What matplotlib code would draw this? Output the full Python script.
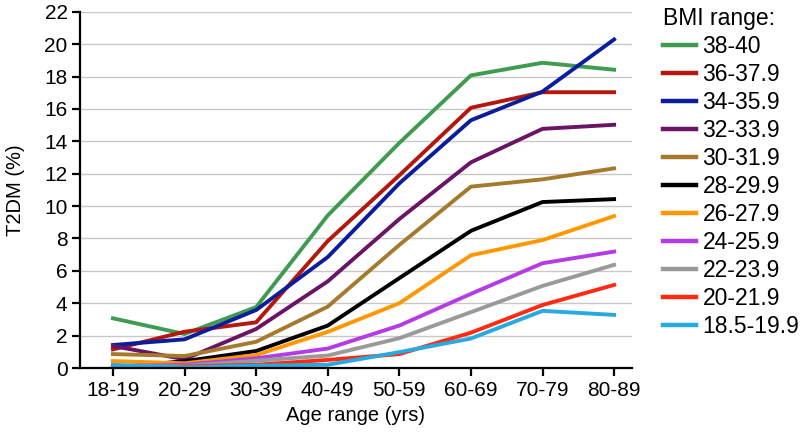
import matplotlib.pyplot as plt

plt.rcParams['font.family'] = ['Liberation Sans', 'DejaVu Sans']

age_ranges = ['18-19', '20-29', '30-39', '40-49', '50-59', '60-69', '70-79', '80-89']
bmi_ranges = ['38-40', '36-37.9', '34-35.9', '32-33.9', '30-31.9', '28-29.9',
              '26-27.9', '24-25.9', '22-23.9', '20-21.9', '18.5-19.9']

bmi_38_40 = [3.07, 2.1, 3.76, 9.42, 13.9, 18.07, 18.85, 18.42]
bmi_36_37 = [1.15, 2.24, 2.82, 7.84, 11.9, 16.07, 17.03, 17.03]
bmi_34_35 = [1.42, 1.77, 3.58, 6.85, 11.4, 15.3, 17.07, 20.29]
bmi_32_33 = [1.36, 0.54, 2.41, 5.35, 9.2, 12.7, 14.77, 15.02]
bmi_30_31 = [0.86, 0.74, 1.62, 3.79, 7.6, 11.2, 11.65, 12.33]
bmi_28_29 = [0.02, 0.42, 1.05, 2.62, 5.55, 8.47, 10.25, 10.43]
bmi_26_27 = [0.43, 0.29, 0.8, 2.23, 4.0, 6.96, 7.9, 9.38]
bmi_24_25 = [0.1, 0.2, 0.6, 1.2, 2.62, 4.58, 6.47, 7.19]
bmi_22_23 = [0.05, 0.14, 0.45, 0.77, 1.84, 3.45, 5.07, 6.37]
bmi_20_21 = [0.0, 0.1, 0.2, 0.5, 0.86, 2.18, 3.89, 5.13]
bmi_18_19 = [0.19, 0.05, 0.15, 0.2, 0.98, 1.82, 3.53, 3.28]

series = [bmi_38_40, bmi_36_37, bmi_34_35, bmi_32_33, bmi_30_31, bmi_28_29,
          bmi_26_27, bmi_24_25, bmi_22_23, bmi_20_21, bmi_18_19]
colors = ['#3f9a52', '#b3170e', '#0c1d9c', '#6b1466', '#a67a2c', '#000000',
          '#ff9800', '#b43ce6', '#9a9a9a', '#ff2a10', '#27a9e1']

fig = plt.figure(figsize=(8, 4.42), dpi=100)
ax = fig.add_axes([0.1, 0.1674, 0.69, 0.806])

x = range(len(age_ranges))
for vals, name, c in zip(series, bmi_ranges, colors):
    ax.plot(x, vals, color=c, lw=2.8, label=name)

ax.set_xlim(-0.46, 7.25)
ax.set_ylim(0, 22)
ax.set_yticks(range(0, 23, 2))
ax.set_xticks(list(x))
ax.set_xticklabels(age_ranges)
ax.yaxis.grid(True, color='#c8c8c8', lw=1.0)
ax.set_axisbelow(True)
for s in ['top', 'right']:
    ax.spines[s].set_visible(False)
for s in ['left', 'bottom']:
    ax.spines[s].set_linewidth(1.6)
ax.tick_params(axis='both', labelsize=15, width=1.6, length=6, direction='out', pad=3)
ax.set_xlabel('Age range (yrs)', fontsize=14.5, labelpad=5)
ax.set_ylabel('T2DM (%)', fontsize=14.5, labelpad=14)

leg = ax.legend(title='BMI range:', loc='upper left', bbox_to_anchor=(1.056, 1.014),
                frameon=False, fontsize=16.5, title_fontsize=16.5, handlelength=1.45,
                handletextpad=0.28, labelspacing=0.22, borderaxespad=0, borderpad=0)
leg._legend_box.align = 'left'
for line in leg.get_lines():
    line.set_linewidth(3.2)

fig.savefig('out.png', dpi=100)
